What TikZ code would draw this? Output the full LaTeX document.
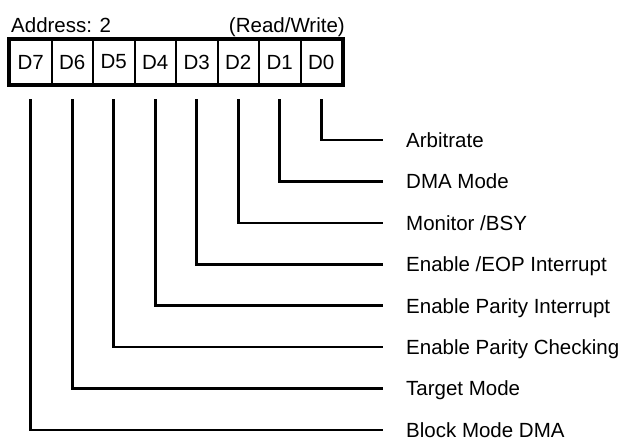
\documentclass[tikz,border=0pt]{standalone}
\usepackage{fontspec}
\setmainfont{Liberation Sans}
\usetikzlibrary{positioning}

\begin{document}
\begin{tikzpicture}[x=1pt, y=-1pt,
    bit/.style={draw, line width=2pt, minimum width=41.5pt, minimum height=44pt,
                inner sep=0pt, font=\fontsize{20.5}{24}\selectfont},
    lbl/.style={anchor=west, inner sep=0pt, text height=14.6pt, text depth=0pt,
                font=\fontsize{20.5}{24}\selectfont},
    wire/.style={line width=2.6pt}
  ]
    \useasboundingbox (0,0) rectangle (622,439);
    \node[anchor=base west, inner sep=0pt, font=\fontsize{20.5}{24}\selectfont] (addr) at (11,32) {Address: 2};
    \node[anchor=base east, inner sep=0pt, font=\fontsize{20.5}{24}\selectfont] (rw) at (345,32) {(Read/Write)};
    \foreach \i [count=\k from 0] in {7,6,5,4,3,2,1,0} {
      \node[bit] (d\i) at (30.75+41.5*\k, 62) {D\i};
    }
    \draw[line width=3.5pt] (d7.north west) rectangle (d0.south east);
    \foreach \i/\t [count=\k from 0] in {0/Arbitrate, 1/DMA Mode, 2/{Monitor /BSY},
        3/{Enable /EOP Interrupt}, 4/Enable Parity Interrupt, 5/Enable Parity Checking,
        6/Target Mode, 7/Block Mode DMA} {
      \node[lbl] (b\i) at (406, 140+41.43*\k) {\t};
      \draw[wire] ([yshift=-14pt]d\i.south) |- ([xshift=-23pt]b\i.west);
    }
  \end{tikzpicture}
\end{document}
